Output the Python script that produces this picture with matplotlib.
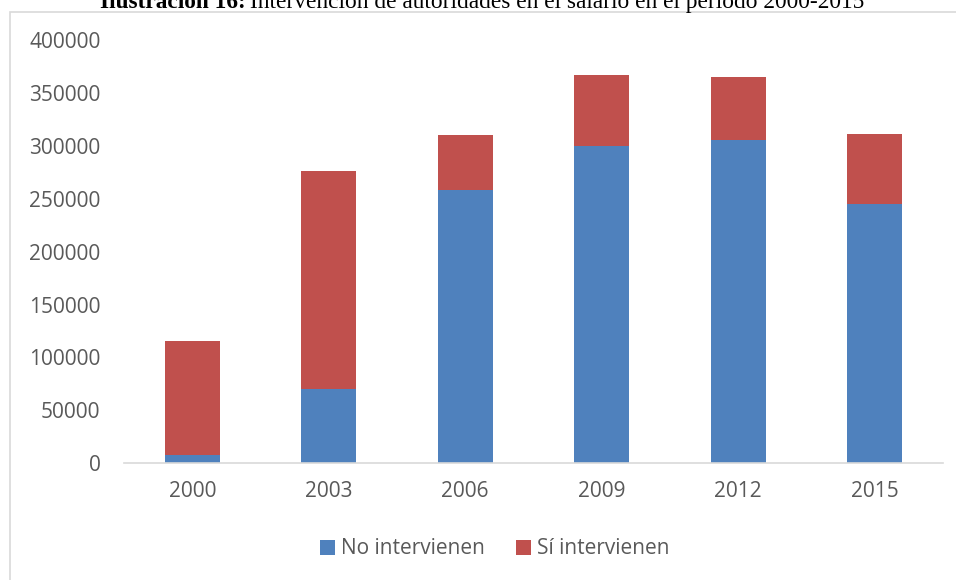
import numpy as np
import matplotlib.pyplot as plt
from matplotlib.patches import Rectangle

years = ["2000", "2003", "2006", "2009", "2012", "2015"]
no_interv = [7600, 70200, 258200, 299500, 305200, 244700]
si_interv = [108200, 205700, 52300, 67100, 59500, 66200]
labels = ["No intervienen", "Sí intervienen"]
colors = ["#4F81BD", "#C0504D"]

plt.rcParams['font.family'] = ['Open Sans', 'DejaVu Sans']

fig = plt.figure(figsize=(9.56, 5.8), dpi=100)

# chart frame (clipped at right and bottom like the reference)
fig.patches.append(Rectangle((10/956, -0.1), 1.2, 1 - 12/580 + 0.1,
                             transform=fig.transFigure, fill=False,
                             edgecolor="#d9d9d9", linewidth=1.2))

ax = fig.add_axes([124/956, 1 - 463.3/580, (943 - 124)/956, 423.3/580])

x = np.arange(len(years))
ax.bar(x, no_interv, width=0.4, color=colors[0], label=labels[0])
ax.bar(x, si_interv, width=0.4, bottom=no_interv, color=colors[1], label=labels[1])

ax.set_xlim(-0.5, len(years) - 0.5)
ax.set_ylim(0, 400000)
ax.set_yticks(np.arange(0, 400001, 50000))
ax.set_xticks(x, years)
ax.tick_params(length=0, labelsize=15, labelcolor="#595959")
ax.tick_params(axis='x', pad=13)
ax.tick_params(axis='y', pad=17)
for s in ["top", "right", "left"]:
    ax.spines[s].set_visible(False)
ax.spines["bottom"].set_color("#d9d9d9")
ax.spines["bottom"].set_linewidth(1.2)

fig.legend(loc="center", bbox_to_anchor=(495/956, 1 - 549/580), ncol=2,
           frameon=False, fontsize=15, labelcolor="#595959",
           handlelength=0.7, handleheight=0.7, handletextpad=0.3,
           columnspacing=1.5)

# title, cut off at the top
t1 = fig.text(100/956, 1 - 8/580, "Ilustración 16:", family="Liberation Serif",
              fontsize=16.8, fontweight="bold", va="baseline", ha="left")
fig.canvas.draw()
bb = t1.get_window_extent()
fig.text(bb.x1/956 + 4/956, 1 - 8/580,
         "Intervención de autoridades en el salario en el periodo 2000-2015",
         family="Liberation Serif", fontsize=16.8, va="baseline", ha="left")

fig.savefig("out.png", dpi=100)
